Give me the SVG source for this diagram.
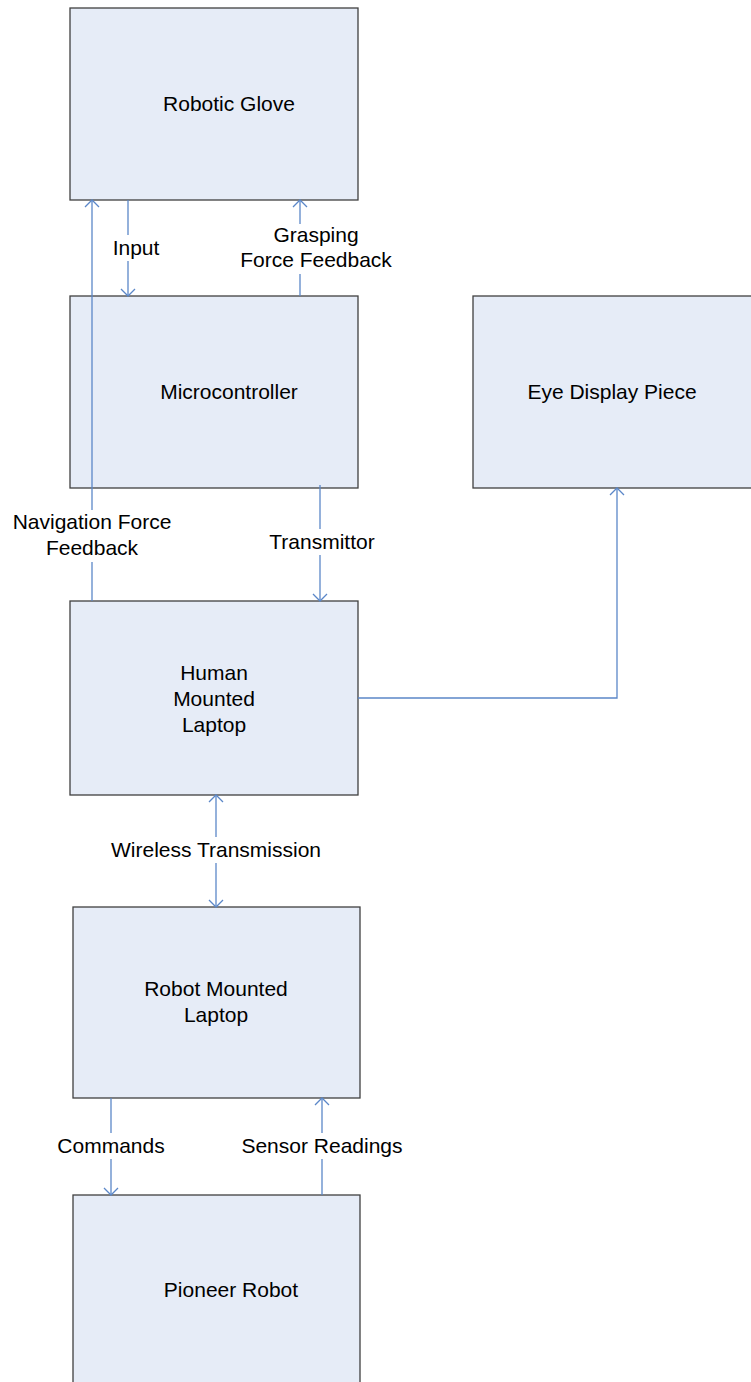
<svg xmlns="http://www.w3.org/2000/svg" width="751" height="1382" viewBox="0 0 751 1382">
<style>
.box{fill:#e6ecf7;stroke:#404040;stroke-width:1.3}
.lbl{font-family:"Liberation Sans",Arial,sans-serif;font-size:21px;fill:#000;text-anchor:middle}
.ln{fill:none;stroke:#5b87c8;stroke-width:1.3}
.bg{fill:#fff}
</style>
<defs>
<marker id="ah" markerWidth="16" markerHeight="16" refX="8" refY="8" orient="auto" markerUnits="userSpaceOnUse">
<path d="M1,1 L8,8 L1,15" fill="none" stroke="#5b87c8" stroke-width="1.3"/>
</marker>
<marker id="as" markerWidth="16" markerHeight="16" refX="8" refY="8" orient="auto-start-reverse" markerUnits="userSpaceOnUse">
<path d="M1,1 L8,8 L1,15" fill="none" stroke="#5b87c8" stroke-width="1.3"/>
</marker>
</defs>
<rect width="751" height="1382" fill="#fff"/>
<g id="glove"><rect class="box" x="70" y="8" width="288" height="192"/><text class="lbl" x="229" y="111">Robotic Glove</text></g>
<g id="micro"><rect class="box" x="70" y="296" width="288" height="192"/><text class="lbl" x="229" y="399">Microcontroller</text></g>
<g id="eye"><rect class="box" x="473" y="296" width="290" height="192"/><text class="lbl" x="612" y="399">Eye Display Piece</text></g>
<g id="hml"><rect class="box" x="70" y="601" width="288" height="194"/><text class="lbl" x="214" y="680">Human</text><text class="lbl" x="214" y="706">Mounted</text><text class="lbl" x="214" y="732">Laptop</text></g>
<g id="rml"><rect class="box" x="73" y="907" width="287" height="191"/><text class="lbl" x="216" y="996">Robot Mounted</text><text class="lbl" x="216" y="1022">Laptop</text></g>
<g id="pioneer"><rect class="box" x="73" y="1195" width="287" height="200"/><text class="lbl" x="231" y="1297">Pioneer Robot</text></g>
<g id="connectors">
<line class="ln" x1="92" y1="601" x2="92" y2="200" marker-end="url(#ah)"/>
<line class="ln" x1="128" y1="200" x2="128" y2="296" marker-end="url(#ah)"/>
<line class="ln" x1="300" y1="296" x2="300" y2="200" marker-end="url(#ah)"/>
<line class="ln" x1="320" y1="485" x2="320" y2="601" marker-end="url(#ah)"/>
<polyline class="ln" points="358,698 617,698 617,488" marker-end="url(#ah)"/>
<line class="ln" x1="216" y1="795" x2="216" y2="907" marker-start="url(#as)" marker-end="url(#ah)"/>
<line class="ln" x1="111" y1="1098" x2="111" y2="1195" marker-end="url(#ah)"/>
<line class="ln" x1="322" y1="1195" x2="322" y2="1098" marker-end="url(#ah)"/>
<rect class="bg" x="110" y="235" width="52" height="26"/>
<text class="lbl" x="136" y="255">Input</text>
<rect class="bg" x="236" y="224" width="160" height="50"/>
<text class="lbl" x="316" y="242">Grasping</text>
<text class="lbl" x="316" y="267">Force Feedback</text>
<rect class="bg" x="8" y="510" width="168" height="52"/>
<text class="lbl" x="92" y="529">Navigation Force</text>
<text class="lbl" x="92" y="555">Feedback</text>
<rect class="bg" x="264" y="529" width="116" height="26"/>
<text class="lbl" x="322" y="549">Transmittor</text>
<rect class="bg" x="104" y="837" width="224" height="26"/>
<text class="lbl" x="216" y="857">Wireless Transmission</text>
<rect class="bg" x="52" y="1133" width="118" height="26"/>
<text class="lbl" x="111" y="1153">Commands</text>
<rect class="bg" x="235" y="1133" width="174" height="26"/>
<text class="lbl" x="322" y="1153">Sensor Readings</text>
</g>
</svg>
